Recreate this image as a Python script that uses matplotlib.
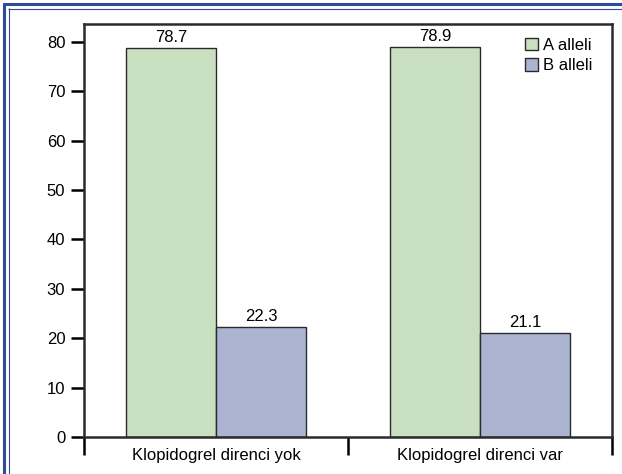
import numpy as np
import matplotlib.pyplot as plt
from matplotlib.lines import Line2D

categories = ["Klopidogrel direnci yok", "Klopidogrel direnci var"]
a_alleli = [78.7, 78.9]
b_alleli = [22.3, 21.1]
yticks = [0, 10, 20, 30, 40, 50, 60, 70, 80]

green = "#c8e0c0"
blue = "#abb5d1"
edge = "#2a2a2a"
frame_blue = "#2f4b9b"

plt.rcParams["font.family"] = ["Liberation Sans", "DejaVu Sans"]

W, H = 622, 474
fig = plt.figure(figsize=(W / 100, H / 100), dpi=100)


def frame_line(x0, y0, x1, y1, lw):
    # pixel coords from the top-left corner
    fig.lines.append(Line2D([x0 / W, x1 / W], [1 - y0 / H, 1 - y1 / H],
                            transform=fig.transFigure, color=frame_blue,
                            linewidth=lw, solid_capstyle="butt"))


# blue double border on the left and top edges
frame_line(4.3, 3.2, 4.3, H, 2.2)
frame_line(3.2, 4.3, W, 4.3, 2.2)
frame_line(8.6, 8.1, 8.6, H, 0.8)
frame_line(8.1, 8.6, W, 8.6, 0.8)

ax = fig.add_axes([84 / W, 1 - 437 / H, 528 / W, 413 / H])

x = np.arange(len(categories))
w = 0.34
ax.bar(x - w / 2, a_alleli, w, color=green, edgecolor=edge, linewidth=1.0, label="A alleli")
ax.bar(x + w / 2, b_alleli, w, color=blue, edgecolor=edge, linewidth=1.0, label="B alleli")

for xi, v in zip(x - w / 2, a_alleli):
    ax.text(xi, v + 0.6, f"{v}", ha="center", va="bottom", fontsize=12)
for xi, v in zip(x + w / 2, b_alleli):
    ax.text(xi, v + 0.6, f"{v}", ha="center", va="bottom", fontsize=12)

ax.set_xlim(-0.5, 1.5)
ax.set_ylim(0, 83.6)
ax.set_yticks(yticks)
ax.tick_params(axis="y", direction="out", length=9.5, width=1.8, labelsize=12, pad=4)

# category labels centred, ticks at group boundaries
ax.set_xticks([-0.5, 0.5, 1.5])
ax.set_xticklabels([])
ax.set_xticks(x, minor=True)
ax.set_xticklabels(categories, minor=True, fontsize=12)
ax.tick_params(axis="x", which="major", direction="out", length=13, width=1.8)
ax.tick_params(axis="x", which="minor", length=0, pad=8)

for s in ax.spines.values():
    s.set_linewidth(1.8)
    s.set_color(edge)

ax.legend(loc="upper right", frameon=False, fontsize=12, handlelength=0.8,
          handleheight=0.8, handletextpad=0.3, labelspacing=0.3,
          borderaxespad=0.3, bbox_to_anchor=(0.985, 0.995))

fig.savefig("out.png", dpi=100)
